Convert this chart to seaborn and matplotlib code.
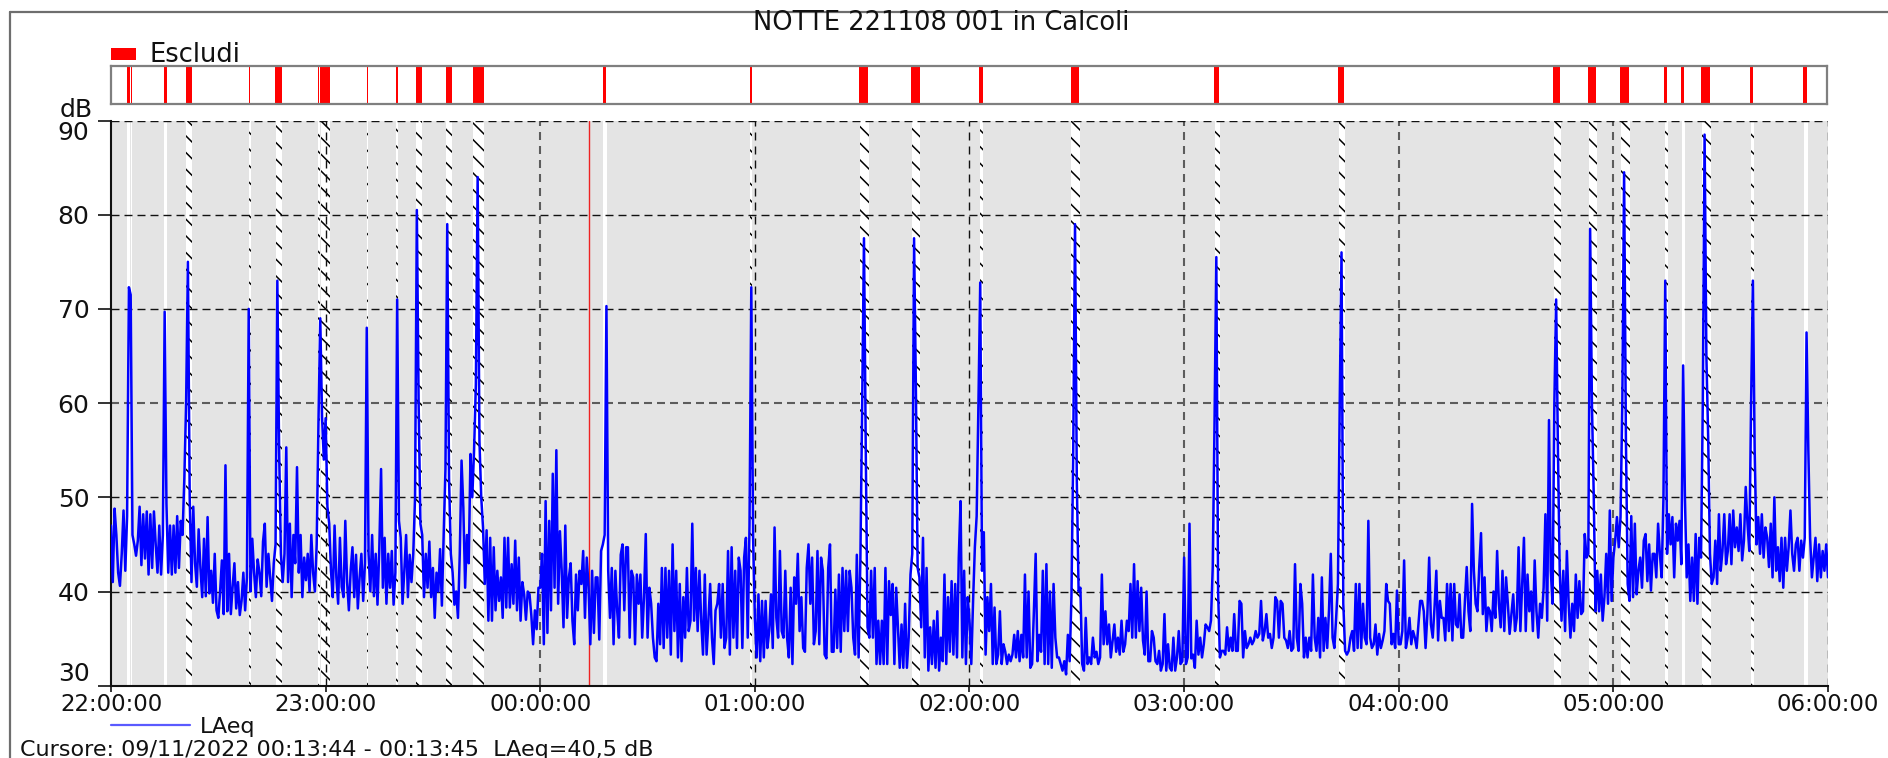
import numpy as np
import pandas as pd
import matplotlib
matplotlib.use("Agg")
import matplotlib.pyplot as plt
import matplotlib.dates as mdates
from matplotlib.patches import Rectangle
from matplotlib.lines import Line2D
import seaborn as sns

# ---------------------------------------------------------------- data
TITOLO = "NOTTE 221108 001 in Calcoli"
INIZIO = "2022-11-08 22:00:00"
FINE = "2022-11-09 06:00:00"
PASSO = "30s"

# LAeq [dB], one value every 30 s, one list per hour
laeq_h22 = [
    47, 41, 48.8, 46, 42, 40.6, 44, 48.6, 42.2, 48,
    72.3, 71.5, 46, 45, 43.8, 45.4, 49, 42.8, 48.2, 43.5,
    48.5, 41.8, 48.2, 42.5, 48.5, 45, 42, 47, 41.8, 46,
    69.7, 49.3, 42, 47, 41.8, 47, 42, 48, 42.5, 47.5,
    46, 52, 60, 75, 50, 41, 49, 43, 40.5, 46.6,
    42.5, 39.4, 45.6, 39.5, 47.9, 39.8, 42.2, 38.8, 44, 38,
    37.2, 40, 43.3, 37.6, 53.4, 37.9, 44, 37.6, 40.5, 43,
    38.2, 41, 37.5, 39, 42, 38, 41.5, 70, 40, 45.6,
    42, 39.4, 43.4, 42, 39.5, 45.3, 47.2, 40.5, 44, 41.5,
    39, 43, 45, 73, 55, 44, 41, 44, 55.3, 41,
    47.2, 39.4, 46, 43, 53.2, 42, 46, 39.4, 43.6, 41.2,
    44, 40, 46, 42, 40, 45, 58, 69, 58.5, 54,
]
laeq_h23 = [
    58.4, 49, 47.2, 42.2, 39.4, 47, 41.5, 38.7, 45.7, 40.5,
    39.4, 47.5, 41, 38, 42.2, 44.7, 39.4, 43.9, 38.2, 41.5,
    44, 39, 43, 68, 44, 40, 46, 39.5, 44, 38.6,
    44.5, 53, 40.4, 45.7, 38.7, 44, 40.4, 44.3, 38.6, 42,
    71, 47.5, 45.7, 38.7, 42.2, 46, 39.4, 43.9, 41, 44,
    50, 80.5, 60, 47.2, 46, 39.4, 44, 40.4, 45.3, 39.4,
    42.5, 37.2, 42, 40, 44.5, 38.5, 46, 53, 79, 52,
    44, 42, 38.6, 40, 37.2, 44, 53.9, 48.9, 40.4, 46,
    43, 54.6, 50, 55, 62, 84, 56, 50, 46.8, 40.8,
    46.5, 36.9, 45.7, 36.9, 44.7, 38, 42.2, 39, 41.5, 37.2,
    45.7, 38.3, 45.7, 38.3, 42.9, 38.7, 45.4, 38, 43.6, 36.9,
    41, 39.7, 37, 40, 39.7, 37.5, 34.4, 38, 36, 40.4,
]
laeq_h00 = [
    40.4, 44, 34.4, 49.6, 35.6, 47.5, 38, 52.5, 40.4, 55,
    38.7, 46.4, 42.2, 36.2, 47, 37.2, 41.5, 43, 36.9, 34.4,
    41.8, 38, 42.2, 40.8, 44.3, 37.2, 43.6, 40.5, 34.4, 42.2,
    35.6, 41.5, 41.5, 34.9, 44.3, 45, 46, 70.3, 42.2, 37.2,
    42.5, 34.4, 42.2, 38, 35.1, 43.9, 45, 38, 44.7, 44.7,
    35.1, 42.2, 41.5, 34.4, 41.8, 38.7, 41.8, 35.1, 39.4, 46.1,
    35.1, 40.4, 38.7, 35.1, 33, 32.6, 38.7, 34.4, 42.5, 34,
    42.5, 35.1, 42.2, 33.3, 45, 35.8, 42.2, 33, 40.8, 32.6,
    39.4, 35.1, 42.5, 35.8, 36.9, 47.2, 36.9, 42.5, 35.8, 42.2,
    36.9, 33.3, 41.8, 33.3, 36.9, 40.8, 35.1, 32.3, 38, 38.7,
    40.8, 35.1, 40.8, 34, 35.1, 44.3, 33.3, 44.7, 35.1, 42.2,
    34, 43.6, 42.2, 34, 43.6, 45.7, 35.1, 47, 72.3, 45.7,
]
laeq_h01 = [
    37.2, 33, 39.7, 32.6, 39, 33, 39, 34, 35.8, 39.7,
    34, 46.8, 37.2, 35.1, 44.3, 35.8, 35.1, 42.2, 35.1, 33,
    40.4, 32.3, 41.5, 38.7, 44, 35.8, 39.4, 34, 33.6, 42.5,
    45, 38.7, 43.6, 34.4, 35.8, 44.3, 34.4, 43.6, 42.2, 33.3,
    32.9, 42.5, 45, 33.6, 33.6, 40.2, 34, 41.8, 33.6, 42.5,
    35.8, 42.2, 35.8, 42.2, 40.4, 35.1, 33.3, 43.9, 33, 43.6,
    60, 77.5, 55, 36.2, 35.1, 42.2, 35.1, 42.5, 32.3, 36.9,
    32.3, 36.9, 32.3, 42.5, 32.3, 41.1, 37.5, 40.8, 32.3, 40.4,
    36.2, 31.9, 36.5, 31.9, 38.7, 31.9, 35.1, 41.8, 44, 77.5,
    62, 42.5, 41.5, 36.2, 45.7, 33, 42.5, 31.6, 36.2, 32.3,
    36.9, 31.9, 37.9, 31.6, 35.1, 32.6, 41.8, 32.3, 39.4, 33.6,
    41.1, 33.3, 40.8, 33, 43.6, 49.6, 33, 42.2, 32.3, 39.4,
]
laeq_h02 = [
    36.9, 32.3, 39, 44.7, 48, 60, 72.8, 42.2, 46.3, 33.3,
    39.4, 35.8, 40.8, 32.3, 38.3, 32.3, 33.3, 37.9, 32.3, 34.4,
    33.6, 32.3, 33.3, 32.6, 33.3, 35.4, 33, 35.8, 32.6, 35.4,
    33, 41.8, 33, 40, 31.9, 32.3, 37.9, 44, 32.6, 35.4,
    33.6, 42.2, 32.3, 42.9, 32.3, 40, 31.9, 40.8, 35.1, 33,
    33, 32.3, 31.6, 32.6, 31.2, 35.4, 32.6, 39.4, 55, 79,
    51.8, 40, 40.4, 32.3, 31.6, 37.2, 32.3, 33, 32.3, 35.1,
    33, 33.6, 32.3, 33, 41.8, 34.4, 37.9, 34.4, 36.5, 33,
    34.8, 36.5, 33.6, 35.1, 33.3, 36.9, 33.6, 34.4, 36.9, 35.8,
    40.8, 35.1, 42.9, 35.1, 41.1, 35.8, 40.4, 34.8, 33.3, 40,
    32.6, 32.6, 35.8, 35.1, 32.6, 32.3, 33.7, 31.6, 32.3, 37.6,
    31.6, 34.4, 31.9, 31.6, 35.1, 31.6, 33, 35.8, 32.3, 32.6,
]
laeq_h03 = [
    43.6, 32.3, 33, 47.2, 32.9, 33.3, 31.9, 36.9, 33.3, 35.1,
    33, 34.4, 36.5, 36.2, 35.8, 36.9, 42.6, 58, 75.5, 40,
    33, 33.7, 33.7, 33.3, 36.2, 33.7, 35.1, 33.7, 37.6, 33.7,
    33.7, 39, 38.7, 33, 35.8, 34, 34.4, 35.1, 34.4, 34.8,
    35.8, 35.1, 35.5, 39, 34.8, 35.8, 37.6, 35.1, 35.5, 34,
    35.1, 39.4, 39, 35.1, 39, 38.7, 35.1, 34.8, 34, 35.8,
    33.7, 34, 42.9, 35.1, 33.7, 40.8, 38.7, 33, 35.1, 33,
    35.1, 33.7, 41.8, 35.1, 33.7, 37.2, 33, 41.5, 33.7, 37.2,
    34, 38, 44, 35.1, 34, 37.2, 40.8, 60, 76, 38.7,
    33.7, 33.3, 33.7, 35.1, 35.8, 33.7, 40.8, 34, 40.8, 34,
    38.7, 35.1, 34.4, 47.5, 35.1, 34, 34.4, 36.5, 33.3, 35.5,
    34, 34.8, 35.8, 40.8, 39, 38.7, 34.4, 35.5, 34, 40.1,
]
laeq_h04 = [
    34.4, 34.4, 35.8, 43.3, 34, 35.1, 37.2, 34.4, 35.8, 35.1,
    34, 36.5, 39, 39, 37.9, 34, 37.6, 43.6, 36.5, 35.1,
    38.3, 42.2, 34.8, 39, 37.2, 37.2, 34.8, 40.8, 35.8, 40.8,
    34.8, 40.8, 36.5, 36.2, 39.7, 35.1, 35.1, 39, 42.6, 37.9,
    35.8, 49.3, 42.2, 38.7, 37.9, 42.6, 46.2, 37.6, 41.5, 35.8,
    38.3, 37.9, 35.8, 40, 37.2, 44.3, 38.7, 36.2, 42.2, 35.8,
    41.5, 38.7, 35.5, 37.6, 39.7, 35.8, 37.2, 44.7, 35.8, 40.8,
    45.7, 35.8, 41.8, 37.9, 40, 35.8, 43.3, 37.9, 35.1, 38.7,
    37.2, 40.4, 48.2, 36.9, 58.2, 42.2, 38.7, 60, 71, 55,
    42.2, 36.9, 42.2, 35.8, 44.3, 38.7, 35.1, 38.7, 35.8, 41.8,
    37.2, 41.1, 37.6, 37.9, 46.1, 43.6, 44, 78.5, 60, 50.4,
    37.9, 42.2, 37.9, 41.8, 36.9, 39.4, 44, 38.7, 48.6, 39,
]
laeq_h05 = [
    43.6, 45.4, 47.9, 44.7, 47.9, 60, 84.5, 56.4, 40.8, 39,
    48, 39.4, 47.2, 39.7, 42.2, 43.6, 40.4, 45.4, 46.1, 41.1,
    45, 40.1, 44, 44, 41.5, 47.2, 44, 41.5, 50, 73,
    44, 48.2, 45, 47.9, 41.5, 47.2, 45.4, 47.5, 42.9, 64,
    50, 41.5, 45, 39, 43.6, 39, 46.1, 38.7, 45.7, 43.6,
    60, 88.5, 65, 56.4, 44, 40.8, 41.5, 45.4, 40.8, 48.2,
    42.2, 44.3, 48.2, 42.9, 44.3, 48.2, 42.9, 48.6, 44.7, 46.8,
    44.3, 48.2, 43.3, 45.4, 51.1, 47.2, 44.3, 60, 73, 55,
    45, 47.9, 44, 48.2, 43.6, 46.8, 45.7, 42.6, 47.2, 41.5,
    50, 42.2, 44.7, 41.1, 45.7, 40.4, 45.7, 42.2, 44.7, 48.6,
    44, 42.2, 45, 45.7, 42.2, 45.4, 43.6, 45.7, 67.5, 55,
    45.7, 41.5, 43.6, 45.7, 41.1, 45, 41.5, 44.3, 42.2, 45,
]
laeq_h06 = [41.5]

# Excluded periods ("Escludi"): start, end and kind
# E = excluded event, M = short marker
escl_inizio = [
    "22:04:36", "22:05:30", "22:14:54", "22:20:54", "22:38:30", "22:46:00",
    "22:57:54", "22:58:36", "23:11:30", "23:19:48", "23:25:12", "23:33:36",
    "23:41:12", "00:17:36", "00:58:42", "01:29:18", "01:43:54", "02:02:54",
    "02:28:24", "03:08:36", "03:43:18", "04:43:18", "04:53:12", "05:02:12",
    "05:14:18", "05:19:06", "05:24:48", "05:38:36", "05:53:12",
]
escl_fine = [
    "22:05:12", "22:05:54", "22:15:36", "22:22:36", "22:39:00", "22:47:42",
    "22:58:18", "23:01:12", "23:11:54", "23:20:12", "23:26:54", "23:35:18",
    "23:44:12", "00:18:36", "00:59:18", "01:31:48", "01:46:12", "02:03:48",
    "02:30:48", "03:10:00", "03:45:00", "04:45:18", "04:55:24", "05:04:42",
    "05:15:12", "05:20:00", "05:27:18", "05:39:12", "05:54:24",
]
escl_tipo = [
    "M", "M", "M", "E", "E", "E",
    "E", "E", "E", "E", "E", "E",
    "E", "M", "E", "E", "E", "E",
    "E", "E", "E", "E", "E", "E",
    "E", "M", "E", "E", "M",
]

livelli_db = [30, 40, 50, 60, 70, 80, 90]
cursore_da = "2022-11-09 00:13:44"
cursore_a = "2022-11-09 00:13:45"
cursore_laeq = 40.5


# ---------------------------------------------------------------- helpers
def orario(hms):
    """'HH:MM:SS' of the night -> Timestamp (evening on 08/11, morning on 09/11)."""
    h = int(hms[:2])
    giorno = "2022-11-08" if h >= 12 else "2022-11-09"
    return pd.Timestamp(f"{giorno} {hms}")


W, H = 1888, 758


def fx(px):
    return px / W


def fy(py):
    return 1 - py / H


def tratteggio(on_px, off_px, lw):
    k = 0.72 / lw
    return (0, (on_px * k, off_px * k))


laeq = (laeq_h22 + laeq_h23 + laeq_h00 + laeq_h01 +
        laeq_h02 + laeq_h03 + laeq_h04 + laeq_h05 + laeq_h06)
df = pd.DataFrame({
    "ora": pd.date_range(INIZIO, periods=len(laeq), freq=PASSO),
    "LAeq": laeq,
})
t0, t1 = pd.Timestamp(INIZIO), pd.Timestamp(FINE)
periodi = [(orario(a), orario(b), k) for a, b, k in zip(escl_inizio, escl_fine, escl_tipo)]

# ---------------------------------------------------------------- figure
sns.set_style("white")
plt.rcParams["font.family"] = ["DejaVu Sans"]
plt.rcParams["hatch.linewidth"] = 1.1

FS_X = 16.5  # time tick labels
FS_Y = 18    # level tick labels
FS_T = 18.5  # title and strip legend
FS_B = 16    # series legend and cursor readout

fig = plt.figure(figsize=(W / 100, H / 100), dpi=100)
ax = fig.add_axes([fx(111), fy(685.7), fx(1828) - fx(111), fy(120.5) - fy(685.7)])
ax_s = fig.add_axes([fx(111), fy(104), fx(1827) - fx(111), fy(65.7) - fy(104)])

# outer frame
fig.add_artist(Line2D([fx(9.5), fx(9.5)], [0, fy(11.5)], transform=fig.transFigure,
                      color="#6e6e6e", lw=1.6))
fig.add_artist(Line2D([fx(9.5), 1.0], [fy(11.5), fy(11.5)], transform=fig.transFigure,
                      color="#6e6e6e", lw=1.6))

fig.text(0.4985, fy(23), TITOLO, ha="center", va="center", fontsize=FS_T, color="#111111")

# ---- exclusion strip
ax_s.set_xlim(t0, t1)
ax_s.set_ylim(0, 1)
for a, b, _ in periodi:
    ax_s.axvspan(a, b, color="#ff0000", lw=0)
ax_s.set_xticks([])
ax_s.set_yticks([])
for s in ax_s.spines.values():
    s.set_color("#7f7f7f")
    s.set_linewidth(1.6)

fig.add_artist(Rectangle((fx(111), fy(60)), fx(136) - fx(111), fy(48) - fy(60),
                         transform=fig.transFigure, color="#ff0000", lw=0))
fig.text(fx(150), fy(55), "Escludi", ha="left", va="center", fontsize=FS_T, color="#111111")

# ---- main level plot
ax.set_facecolor("#e4e4e4")
for a, b, k in periodi:
    if k == "E":
        ax.axvspan(a, b, facecolor="white", edgecolor="black", hatch="\\\\",
                   lw=0, zorder=0.6)
    else:
        ax.axvspan(a, b, facecolor="white", lw=0, zorder=0.6)

ore = pd.date_range(INIZIO, FINE, freq="1h")
grigie = {0, 3, 4, 5}
for t in ore[1:]:
    if t.hour in grigie:
        ax.axvline(t, color="#5c5c5c", lw=1.5, ls=tratteggio(8, 6, 1.5), zorder=1.2)
    else:
        ax.axvline(t, color="#111111", lw=1.0, ls=tratteggio(8, 6, 1.0), zorder=1.2)
for v in livelli_db[1:]:
    if v == 60:
        ax.axhline(v, color="#5c5c5c", lw=1.5, ls=tratteggio(8, 5, 1.5), zorder=1.2)
    else:
        ax.axhline(v, color="#111111", lw=1.0, ls=tratteggio(8, 5, 1.0), zorder=1.2)

ax.axvline(pd.Timestamp(cursore_da), color="#ee2222", lw=1.0, zorder=1.5)

sns.lineplot(data=df, x="ora", y="LAeq", ax=ax, color="#0000ff", lw=1.8,
             estimator=None, legend=False, zorder=3)

ax.set_xlim(t0, t1)
ax.set_ylim(livelli_db[0], livelli_db[-1])
ax.set_xlabel("")
ax.set_ylabel("")
ax.set_xticks(ore)
ax.xaxis.set_major_formatter(mdates.DateFormatter("%H:%M:%S"))
ax.set_yticks(livelli_db)
ax.tick_params(axis="x", direction="out", length=4.5, width=1.2, pad=0.8,
               labelsize=FS_X, colors="#111111", bottom=True)
ax.tick_params(axis="y", direction="out", length=9.4, width=1.2, pad=6,
               labelsize=FS_Y, colors="#111111", left=True)
etichette_y = ax.get_yticklabels()
etichette_y[0].set_va("bottom")
etichette_y[-1].set_va("top")

for lato in ("top", "right"):
    ax.spines[lato].set_visible(False)
for lato in ("left", "bottom"):
    ax.spines[lato].set_color("#111111")
    ax.spines[lato].set_linewidth(1.5)

fig.text(fx(93), fy(110), "dB", ha="right", va="center", fontsize=FS_Y, color="#111111")

# ---- series legend and cursor readout
fig.add_artist(Line2D([fx(111), fx(190)], [fy(725), fy(725)], transform=fig.transFigure,
                      color="#5a5aff", lw=1.6))
fig.text(fx(200), fy(727), "LAeq", ha="left", va="center", fontsize=FS_B, color="#111111")

valore = f"{cursore_laeq:.1f}".replace(".", ",")
da = pd.Timestamp(cursore_da)
a = pd.Timestamp(cursore_a)
testo_cursore = (f"Cursore: {da:%d/%m/%Y} {da:%H:%M:%S} - {a:%H:%M:%S}  "
                 f"LAeq={valore} dB")
fig.text(fx(20), fy(750), testo_cursore, ha="left", va="center", fontsize=FS_B,
         color="#111111")

fig.savefig("out.png", dpi=100)
